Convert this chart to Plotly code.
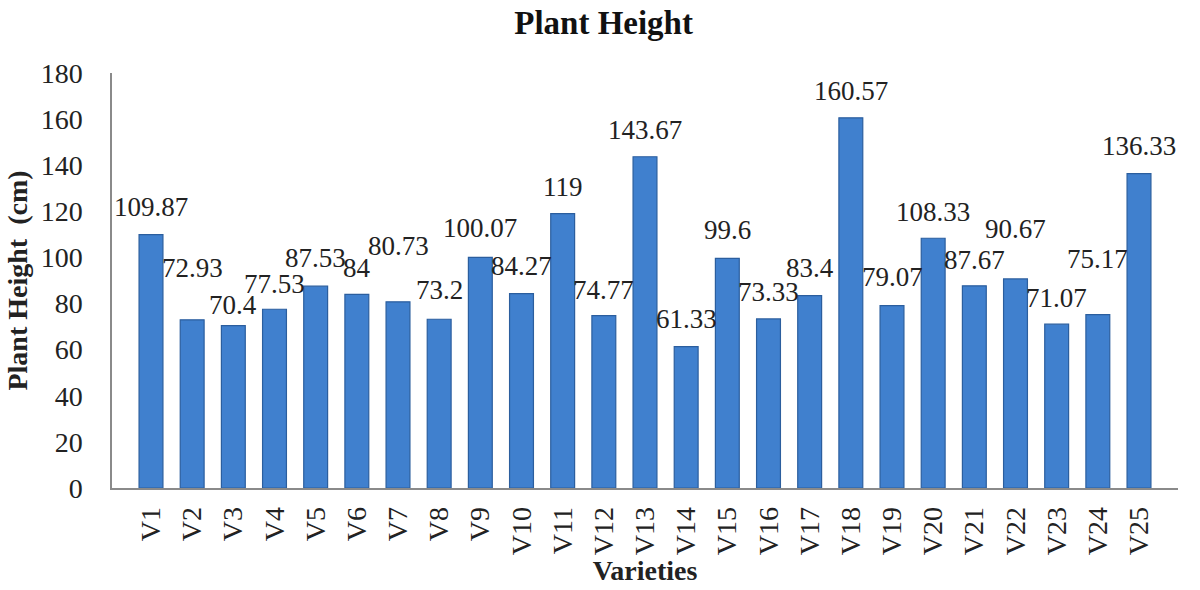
import plotly.graph_objects as go

varieties = [f"V{i}" for i in range(1, 26)]
heights = [109.87, 72.93, 70.4, 77.53, 87.53, 84, 80.73, 73.2, 100.07, 84.27,
           119, 74.77, 143.67, 61.33, 99.6, 73.33, 83.4, 160.57, 79.07, 108.33,
           87.67, 90.67, 71.07, 75.17, 136.33]
labels = ["109.87", "72.93", "70.4", "77.53", "87.53", "84", "80.73", "73.2", "100.07", "84.27",
          "119", "74.77", "143.67", "61.33", "99.6", "73.33", "83.4", "160.57", "79.07", "108.33",
          "87.67", "90.67", "71.07", "75.17", "136.33"]
# pixel offsets of each value label above its bar top (style only)
label_shift = [27.5, 52, 21, 25.5, 28, 26, 56, 29, 29, 27.5,
               27, 26, 27, 28, 28, 27, 28, 27, 29, 26.5,
               26, 50, 26.5, 56, 27.5]

FONT = "Liberation Serif"

fig = go.Figure()
fig.add_trace(go.Bar(
    x=varieties, y=heights,
    marker=dict(color="#4080CE", line=dict(color="#2B5E9E", width=1.2)),
    width=0.58,
    hoverinfo="x+y",
))

for v, h, t, s in zip(varieties, heights, labels, label_shift):
    fig.add_annotation(x=v, y=h, text=t, showarrow=False, yshift=s,
                       yanchor="middle", xanchor="center",
                       font=dict(family=FONT, size=27, color="#222222"))

fig.update_layout(
    width=1200, height=590,
    margin=dict(l=112, r=22, t=73, b=102),
    paper_bgcolor="white", plot_bgcolor="white",
    showlegend=False,
    title=dict(text="<b>Plant Height</b>", x=0.503, xanchor="center",
               y=0.962, yanchor="middle",
               font=dict(family=FONT, size=33, color="#111111")),
    xaxis=dict(
        tickangle=-90, showgrid=False, showline=True, linecolor="#8a8a8a", linewidth=1.5,
        ticks="", ticklabelstandoff=6,
        tickfont=dict(family=FONT, size=28, color="#222222"),
        title=dict(text="<b>Varieties</b>", standoff=4,
                   font=dict(family=FONT, size=28, color="#222222")),
    ),
    yaxis=dict(
        range=[0, 180], dtick=20, showgrid=False, showline=True,
        linecolor="#8a8a8a", linewidth=1.5, ticks="", zeroline=False,
        ticklabelstandoff=22,
        tickfont=dict(family=FONT, size=28, color="#222222"),
        title=dict(text="<b>Plant Height&nbsp; (cm)</b>", standoff=5,
                   font=dict(family=FONT, size=28, color="#222222")),
    ),
)

fig.write_html("out.html")
